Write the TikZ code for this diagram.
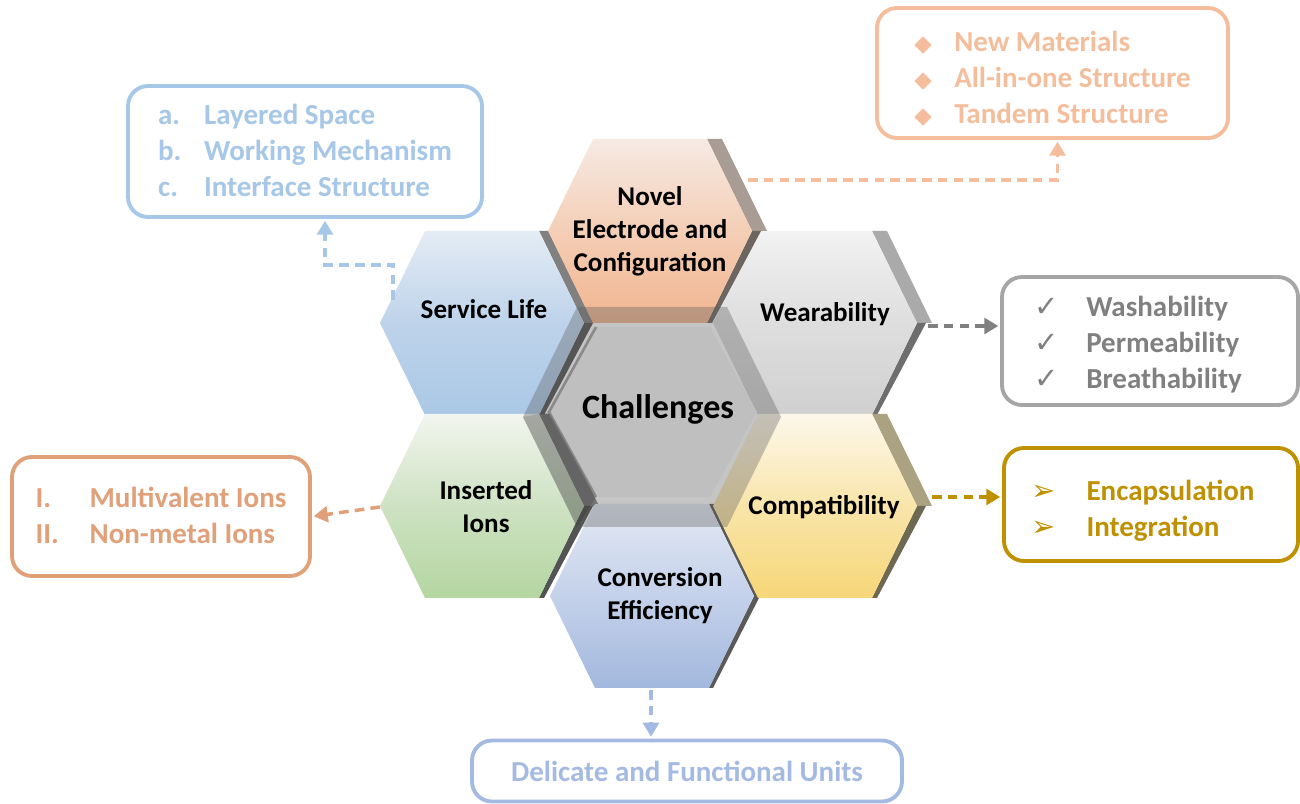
\documentclass[tikz,border=0pt]{standalone}
\usepackage{fontspec}
\setmainfont{Carlito}
\newfontfamily\symbfont{DejaVu Sans}
\usetikzlibrary{arrows.meta}

% face colours (top / middle / bottom)
\definecolor{novA}{RGB}{246,234,228}\definecolor{novB}{RGB}{244,206,182}\definecolor{novC}{RGB}{241,181,143}
\definecolor{lifeA}{RGB}{228,236,245}\definecolor{lifeB}{RGB}{190,211,234}\definecolor{lifeC}{RGB}{170,200,230}
\definecolor{wearA}{RGB}{242,242,242}\definecolor{wearB}{RGB}{222,222,222}\definecolor{wearC}{RGB}{208,208,208}
\definecolor{ionsA}{RGB}{242,245,238}\definecolor{ionsB}{RGB}{206,226,195}\definecolor{ionsC}{RGB}{180,214,160}
\definecolor{compA}{RGB}{252,247,234}\definecolor{compB}{RGB}{249,229,170}\definecolor{compC}{RGB}{246,214,120}
\definecolor{convA}{RGB}{227,233,244}\definecolor{convB}{RGB}{196,209,234}\definecolor{convC}{RGB}{163,184,222}
\definecolor{chalface}{RGB}{191,191,191}
\definecolor{ringcol}{RGB}{90,90,90}
% edge colours
\definecolor{novedge}{RGB}{168,156,148}
\definecolor{wearedge}{RGB}{170,170,170}
\definecolor{compedge}{RGB}{170,162,128}
\definecolor{convedge}{RGB}{90,90,90}
% box colours
\definecolor{matcol}{RGB}{244,190,156}
\definecolor{laycol}{RGB}{166,199,232}
\definecolor{washcol}{RGB}{128,128,128}
\definecolor{enccol}{RGB}{191,144,0}
\definecolor{ioncol}{RGB}{224,160,122}
\definecolor{unitcol}{RGB}{164,186,226}

% one honeycomb cell, with a wide upper and a thin lower edge on the right
\def\hexshape{(-102,0) -- (-57,-92) -- (57,-92) -- (102,0) -- (57,92) -- (-57,92) -- cycle}
\def\hexupper{(57,-92) -- (72,-92) -- (117,0) -- (102,0) -- cycle}
\def\hexlower{(102,0) -- (111,0) -- (62,92) -- (57,92) -- cycle}
\newcommand\hexcell[5]{%
  \fill[#5, shift={#1}] \hexupper;
  \fill[#5!65!black, shift={#1}] \hexlower;
  \shade[shift={#1}, top color=#2, bottom color=#4, middle color=#3] \hexshape;
}
% pushes a list down inside its box
\newcommand\listdown[2]{\raisebox{-#1}[\height][\depth]{#2}}

\begin{document}
\begin{tikzpicture}[x=0.2mm,y=-0.2mm,
  hexlabel/.style={font=\bfseries\fontsize{15.4}{18.8}\selectfont, align=center, text=black},
  infobox/.style={draw, line width=2.2pt, rounded corners=4mm, fill=white, inner sep=0pt,
    font=\bfseries\fontsize{16.5}{20.5}\selectfont},
  link/.style={dash pattern=on 5.5pt off 3.5pt, line width=2pt, -{Triangle[length=8pt,width=9pt]}, shorten >=1pt}]
  \useasboundingbox (0,0) rectangle (1300,804);

  % cells
  \hexcell{(482,323)}{lifeA}{lifeB}{lifeC}{gray}
  \hexcell{(482,506)}{ionsA}{ionsB}{ionsC}{gray}
  \hexcell{(815,323)}{wearA}{wearB}{wearC}{wearedge}
  \fill[convedge, shift={(652,596)}] (57,-92) -- (63,-92) -- (108,0) -- (61,92) -- (57,92) -- (102,0) -- cycle;
  \shade[shift={(652,596)}, top color=convA, bottom color=convC, middle color=convB] \hexshape;
  \hexcell{(815,506)}{compA}{compB}{compC}{compedge}
  \hexcell{(650,231)}{novA}{novB}{novC}{novedge}

  % centre cell with its bevel
  \fill[ringcol, opacity=.35, shift={(652,417)}] (-129,0) -- (-75,-110) -- (75,-110) -- (129,0) -- (75,110) -- (-75,110) -- cycle;
  \fill[black, opacity=.12] (523,417) -- (549,412) -- (596,497) -- (577,527) -- cycle;
  \fill[chalface, shift={(653,412)}] (-104,0) -- (-57,-85) -- (57,-85) -- (104,0) -- (57,85) -- (-57,85) -- cycle;
  \draw[black!55, line width=1.5pt, opacity=.7] (596,327) -- (549,412) -- (596,497);

  % labels
  \node[hexlabel] (nov) at (650,231) {Novel\\Electrode and\\Configuration};
  \node[hexlabel] (life) at (484,309) {Service Life};
  \node[hexlabel] (wear) at (825,314) {Wearability};
  \node[hexlabel, font=\bfseries\fontsize{19.4}{22}\selectfont] (chal) at (658,409) {Challenges};
  \node[hexlabel] (ions) at (486,507) {Inserted\\Ions};
  \node[hexlabel] (comp) at (824,507) {Compatibility};
  \node[hexlabel] (conv) at (660,596) {Conversion\\Efficiency};

  % boxes
  \node[infobox, draw=matcol, text=matcol, minimum width=70.2mm, minimum height=26mm] (mat) at (1052.5,73)
    {\listdown{4pt}{\begin{tabular}{@{}p{8mm}@{}l@{}}
      {\symbfont\fontsize{13}{13}\selectfont ◆} & New Materials\\
      {\symbfont\fontsize{13}{13}\selectfont ◆} & All-in-one Structure\\
      {\symbfont\fontsize{13}{13}\selectfont ◆} & Tandem Structure
    \end{tabular}}};
  \node[infobox, draw=laycol, text=laycol, minimum width=70.8mm, minimum height=26.2mm] (lay) at (305,151.5)
    {\listdown{1.2pt}{\begin{tabular}{@{}p{9.2mm}@{}l@{}}
      a. & Layered Space\\
      b. & Working Mechanism\\
      c. & Interface Structure
    \end{tabular}}};
  \node[infobox, draw=gray!70, text=washcol, minimum width=59.2mm, minimum height=25.6mm] (wash) at (1150,341)
    {\listdown{2.3pt}{\begin{tabular}{@{}p{10.4mm}@{}l@{}}
      {\symbfont\mdseries ✓} & Washability\\
      {\symbfont\mdseries ✓} & Permeability\\
      {\symbfont\mdseries ✓} & Breathability
    \end{tabular}}\hspace*{4.8mm}};
  \node[infobox, draw=enccol, text=enccol, minimum width=58.8mm, minimum height=22.6mm] (enc) at (1151,504.5)
    {\listdown{4pt}{\begin{tabular}{@{}p{11mm}@{}l@{}}
      {\symbfont\mdseries ➢} & Encapsulation\\
      {\symbfont\mdseries ➢} & Integration
    \end{tabular}}\hspace*{3.2mm}};
  \node[infobox, draw=ioncol, text=ioncol, minimum width=59.6mm, minimum height=23.8mm] (ion) at (161,516.5)
    {\listdown{1.2pt}{\begin{tabular}{@{}p{10.8mm}@{}l@{}}
      I. & Multivalent Ions\\
      II. & Non-metal Ions
    \end{tabular}}};
  \node[infobox, draw=unitcol, text=unitcol, minimum width=86mm, minimum height=12.2mm] (unit) at (687,771)
    {Delicate and Functional Units};

  % dashed links
  \coordinate (nov-e) at (748,180);
  \coordinate (life-w) at (393,300);
  \coordinate (wear-e) at (928,326);
  \coordinate (comp-e) at (932,497);
  \coordinate (ions-w) at (380,507);
  \coordinate (conv-s) at (651,690);
  \draw[link, color=matcol] (nov-e) -| ([xshift=1mm]mat.south);
  \draw[link, color=laycol] (life-w) -- ++(0,-35) -| ([xshift=4mm]lay.south);
  \draw[link, color=washcol] (wear-e) -- (wear-e -| wash.west);
  \draw[link, color=enccol] (comp-e) -- (comp-e -| enc.west);
  \draw[link, color=ioncol] (ions-w) -- (ion.east);
  \draw[link, color=unitcol] (conv-s) -- (conv-s |- unit.north);
\end{tikzpicture}
\end{document}
